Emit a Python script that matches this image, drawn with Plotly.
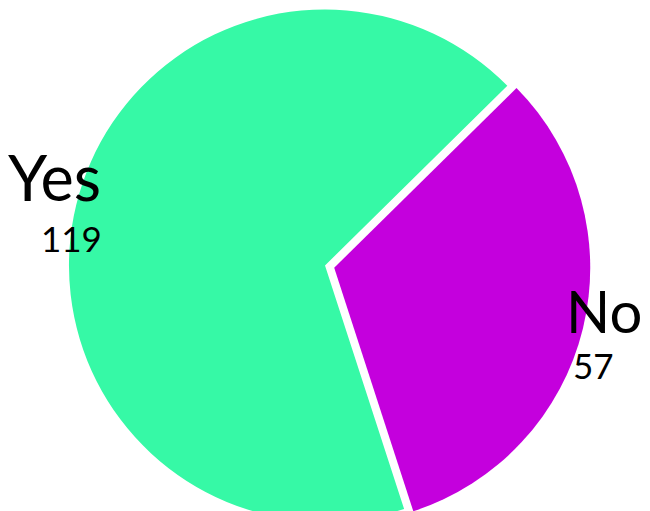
import math
import plotly.graph_objects as go

# ---- data ----
labels = ["Yes", "No"]
values = [119, 57]

# ---- styles ----
colors = ["#36F9A6", "#C400DD"]
pulls = [0, 0.037]
label_font_sizes = [63, 58]
value_font_size = 35
FONT = "Lato, Open Sans, sans-serif"

W, H = 650, 531
ROTATION = 162

fig = go.Figure(go.Pie(
    labels=labels,
    values=values,
    marker=dict(colors=colors, line=dict(width=0)),
    pull=pulls,
    sort=False,
    direction="clockwise",
    rotation=ROTATION,
    textinfo="none",
    showlegend=False,
    hoverinfo="label+value",
))

# Outside labels placed from the data (slice mid-angles at the rim)
total = sum(values)
max_pull = max(pulls)
r_px = min(W, H) / 2 / (1 + max_pull)
cum = 0
annotations = []
for lab, val, p, lsize in zip(labels, values, pulls, label_font_sizes):
    mid = math.radians(ROTATION + 360 * (cum + val / 2) / total)
    cum += val
    sx, sy = math.sin(mid), math.cos(mid)
    cx = W / 2 + p * r_px * sx
    cy = H / 2 + p * r_px * sy
    rim_x = cx + r_px * sx
    rim_y = cy + r_px * sy
    # label name
    annotations.append(dict(
        x=(rim_x + 22 * sx) / W, y=(rim_y + 22 * sy + 23) / H,
        xref="paper", yref="paper", xanchor="center", yanchor="middle",
        showarrow=False, text=lab,
        font=dict(family=FONT, size=lsize, color="black"),
    ))
    # value
    annotations.append(dict(
        x=(rim_x + 8 * sx + 3) / W, y=(rim_y + 8 * sy - 35) / H,
        xref="paper", yref="paper", xanchor="center", yanchor="middle",
        showarrow=False, text=str(val),
        font=dict(family=FONT, size=value_font_size, color="black"),
    ))

fig.update_layout(
    width=W,
    height=H,
    margin=dict(l=0, r=0, t=0, b=0),
    paper_bgcolor="white",
    plot_bgcolor="white",
    annotations=annotations,
)

fig.write_html("out.html")
